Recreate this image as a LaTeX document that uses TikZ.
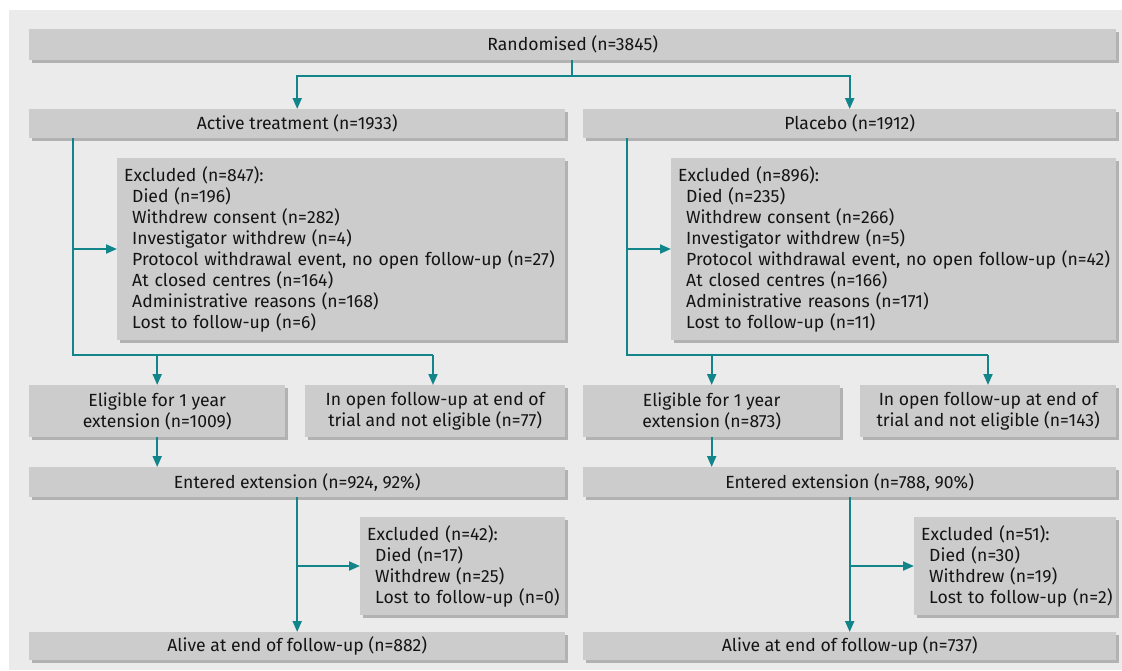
\documentclass[tikz,border=0pt]{standalone}
\usepackage{fontspec}
\setmainfont{Fira Sans}
\usetikzlibrary{arrows.meta,shadows}
\definecolor{panelgray}{RGB}{235,235,235}
\definecolor{boxgray}{RGB}{204,204,204}
\definecolor{shadowgray}{RGB}{178,178,178}
\definecolor{tealc}{RGB}{18,133,138}
\definecolor{txt}{RGB}{20,20,20}
\newcommand{\exitem}[1]{\mbox{\hspace*{8pt}#1}}
\newcommand{\exhead}[1]{\mbox{#1}}
\tikzset{
  box/.style={fill=boxgray, text=txt, inner sep=0pt, anchor=north west, align=center,
    font=\fontsize{17.6}{21}\selectfont,
    general shadow={fill=shadowgray, shadow xshift=3pt, shadow yshift=-3pt}},
  exbox/.style={box, align=left, inner xsep=7pt, inner ysep=8pt},
  conn/.style={draw=tealc, line width=2pt},
  arr/.style={conn, -{Triangle[width=9pt,length=11pt]}}
}
\begin{document}
\begin{tikzpicture}[x=1pt,y=-1pt]
\useasboundingbox (0,0) rectangle (1122,670);
\fill[white] (0,0) rectangle (1122,670);
\fill[panelgray] (9,10) rectangle (1122,670);

% top
\node[box, minimum width=1087pt, minimum height=31pt] (rand) at (29,29) {Randomised (n=3845)};
\node[box, minimum width=536pt, minimum height=29pt] (act) at (29,109) {Active treatment (n=1933)};
\node[box, minimum width=533pt, minimum height=29pt] (pla) at (583,109) {Placebo (n=1912)};

% excluded first
\node[exbox, minimum width=448pt, minimum height=179pt, text width=434pt] (exa) at (117,158)
{\exhead{Excluded (n=847):}\\
\exitem{Died (n=196)}\\
\exitem{Withdrew consent (n=282)}\\
\exitem{Investigator withdrew (n=4)}\\
\exitem{Protocol withdrawal event, no open follow-up (n=27)}\\
\exitem{At closed centres (n=164)}\\
\exitem{Administrative reasons (n=168)}\\
\exitem{Lost to follow-up (n=6)}};
\node[exbox, minimum width=445pt, minimum height=179pt, text width=431pt] (exp) at (671,158)
{\exhead{Excluded (n=896):}\\
\exitem{Died (n=235)}\\
\exitem{Withdrew consent (n=266)}\\
\exitem{Investigator withdrew (n=5)}\\
\exitem{Protocol withdrawal event, no open follow-up (n=42)}\\
\exitem{At closed centres (n=166)}\\
\exitem{Administrative reasons (n=171)}\\
\exitem{Lost to follow-up (n=11)}};

% eligible / open
\node[box, minimum width=256pt, minimum height=52pt] (ela) at (29,385) {Eligible for 1 year\\extension (n=1009)};
\node[box, minimum width=260pt, minimum height=52pt] (opa) at (305,385) {In open follow-up at end of\\trial and not eligible (n=77)};
\node[box, minimum width=257pt, minimum height=52pt] (elp) at (583,385) {Eligible for 1 year\\extension (n=873)};
\node[box, minimum width=256pt, minimum height=52pt] (opp) at (860,385) {In open follow-up at end of\\trial and not eligible (n=143)};

% entered
\node[box, minimum width=536pt, minimum height=30pt] (ena) at (29,467) {Entered extension (n=924, 92\%)};
\node[box, minimum width=533pt, minimum height=30pt] (enp) at (583,467) {Entered extension (n=788, 90\%)};

% excluded second
\node[exbox, minimum width=205pt, minimum height=95pt, text width=191pt] (exa2) at (360,517)
{\exhead{Excluded (n=42):}\\
\exitem{Died (n=17)}\\
\exitem{Withdrew (n=25)}\\
\exitem{Lost to follow-up (n=0)}};
\node[exbox, minimum width=202pt, minimum height=95pt, text width=188pt] (exp2) at (914,517)
{\exhead{Excluded (n=51):}\\
\exitem{Died (n=30)}\\
\exitem{Withdrew (n=19)}\\
\exitem{Lost to follow-up (n=2)}};

% alive
\node[box, minimum width=536pt, minimum height=28pt] (ala) at (29,632) {Alive at end of follow-up (n=882)};
\node[box, minimum width=533pt, minimum height=28pt] (alp) at (583,632) {Alive at end of follow-up (n=737)};

% connectors: randomisation
\coordinate (j0) at (572,76);
\draw[conn] (rand.south -| j0) -- (j0);
\draw[arr] (j0) -| (act.north);
\draw[arr] (j0) -| (pla.north);

% active arm
\coordinate (a1) at (73,355);
\coordinate (a2) at (433,355);
\draw[conn] (act.south -| a1) -- (a1) -- (a2);
\draw[arr] (exa.west -| a1) -- (exa.west);
\draw[arr] (a1 -| ela.north) -- (ela.north);
\draw[arr] (a2) -- (opa.north -| a2);
\draw[arr] (ela.south) -- (ela.south |- ena.north);
\draw[arr] (ena.south) -- (ala.north);
\draw[arr] (ena.south |- exa2.west) -- (exa2.west);

% placebo arm
\coordinate (p1) at (627,355);
\coordinate (p2) at (988,355);
\draw[conn] (pla.south -| p1) -- (p1) -- (p2);
\draw[arr] (exp.west -| p1) -- (exp.west);
\draw[arr] (p1 -| elp.north) -- (elp.north);
\draw[arr] (p2) -- (opp.north -| p2);
\draw[arr] (elp.south) -- (elp.south |- enp.north);
\draw[arr] (enp.south) -- (alp.north);
\draw[arr] (enp.south |- exp2.west) -- (exp2.west);
\end{tikzpicture}
\end{document}
